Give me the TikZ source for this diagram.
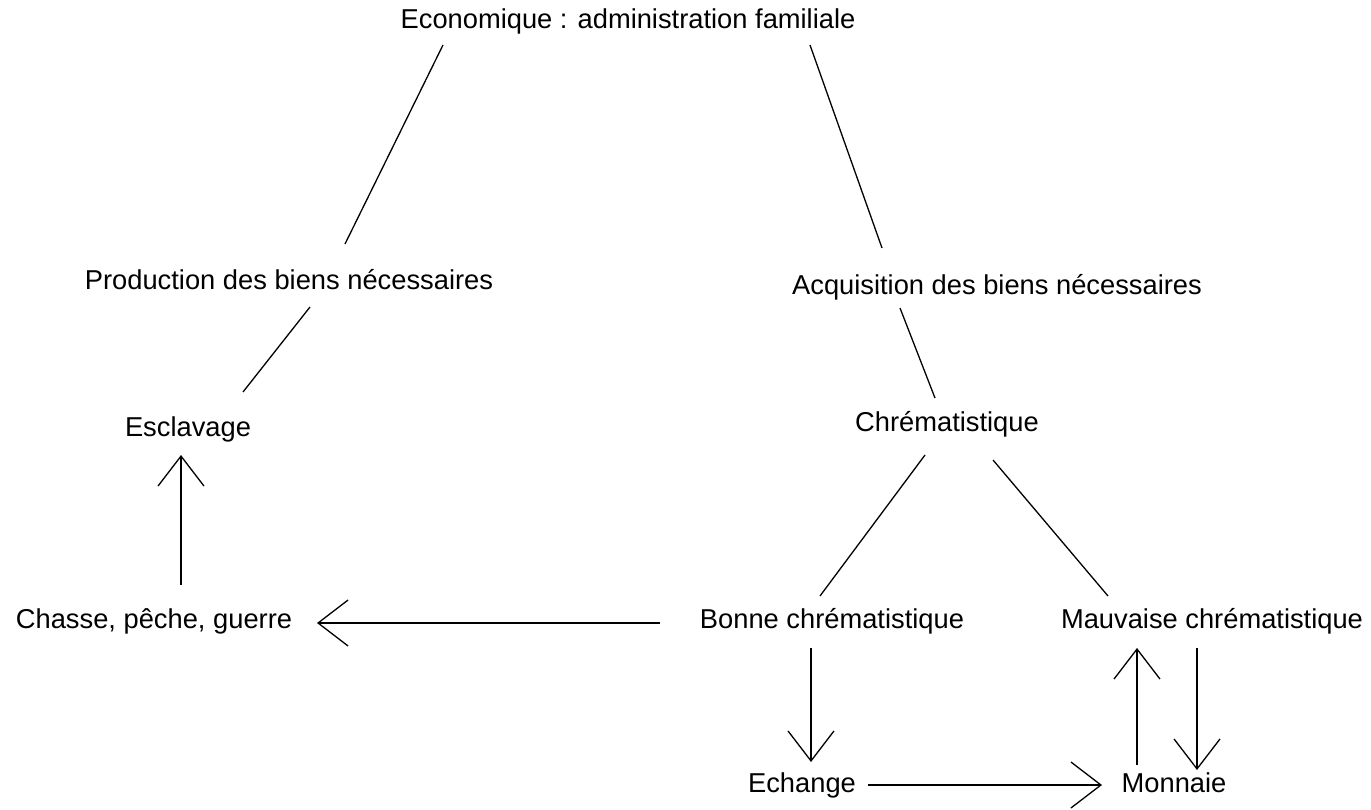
\documentclass[tikz,border=0pt]{standalone}
\usepackage{fontspec}
\setmainfont{Liberation Sans}
\usetikzlibrary{arrows.meta}
\begin{document}
\begin{tikzpicture}[x=1pt,y=-1pt,
  lbl/.style={inner sep=0pt,anchor=center,text height=20pt,text depth=6pt,font=\fontsize{27.3}{32}\selectfont},
  conn/.style={line width=1.3pt,black},
  arr/.style={conn,-{Straight Barb[length=30pt,width=46pt,line width=1.3pt]}}]
\useasboundingbox[fill=white] (0,0) rectangle (1371,810);
\node[lbl] (econ) at (628,22) {Economique : administration familiale};
\node[lbl] (prod) at (289,283) {Production des biens nécessaires};
\node[lbl] (acq) at (997,288) {Acquisition des biens nécessaires};
\node[lbl] (escl) at (188,429) {Esclavage};
\node[lbl] (chrem) at (947,424) {Chrématistique};
\node[lbl] (chasse) at (154,621) {Chasse, pêche, guerre};
\node[lbl] (bonne) at (832,621) {Bonne chrématistique};
\node[lbl] (mauv) at (1212,621) {Mauvaise chrématistique};
\node[lbl] (ech) at (802,785) {Echange};
\node[lbl] (mon) at (1174,785) {Monnaie};
% plain connectors
\draw[conn] ([shift={(-185,23)}]econ.center) -- ([shift={(56,-39)}]prod.center);
\draw[conn] ([shift={(182,23)}]econ.center) -- ([shift={(-115,-40)}]acq.center);
\draw[conn] ([shift={(21,24)}]prod.center) -- ([shift={(55,-37)}]escl.center);
\draw[conn] ([shift={(-97,20)}]acq.center) -- ([shift={(-12,-26)}]chrem.center);
\draw[conn] ([shift={(-22,31)}]chrem.center) -- ([shift={(-12,-25)}]bonne.center);
\draw[conn] ([shift={(46,36)}]chrem.center) -- ([shift={(-104,-25)}]mauv.center);
% arrows
\draw[arr] ([shift={(-172,2)}]bonne.center) -- ([shift={(163,2)}]chasse.center);
\draw[arr] ([shift={(27,-36)}]chasse.center) -- ([shift={(-7,26)}]escl.center);
\draw[arr] ([shift={(-21,27)}]bonne.center) -- ([shift={(9,-23)}]ech.center);
\draw[arr] ([shift={(66,0)}]ech.center) -- ([shift={(-72,0)}]mon.center);
\draw[arr] ([shift={(-37,-20)}]mon.center) -- ([shift={(-75,27)}]mauv.center);
\draw[arr] ([shift={(-15,27)}]mauv.center) -- ([shift={(23,-15)}]mon.center);
\end{tikzpicture}
\end{document}
